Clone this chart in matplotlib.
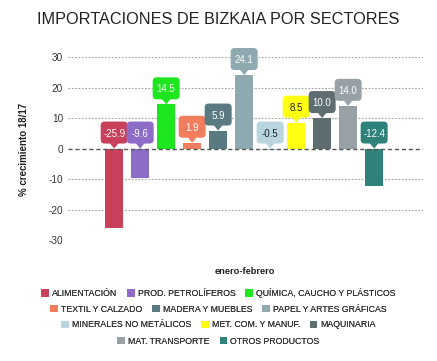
import matplotlib
matplotlib.use("Agg")
import matplotlib.pyplot as plt
from matplotlib.patches import FancyBboxPatch, Polygon
from matplotlib.transforms import Affine2D, ScaledTranslation
import numpy as np

plt.rcParams['font.family'] = ['Liberation Sans', 'DejaVu Sans']
plt.rcParams['axes.unicode_minus'] = False

# datos
sectores = ['ALIMENTACIÓN', 'PROD. PETROLÍFEROS', 'QUÍMICA, CAUCHO Y PLÁSTICOS',
            'TEXTIL Y CALZADO', 'MADERA Y MUEBLES', 'PAPEL Y ARTES GRÁFICAS',
            'MINERALES NO METÁLICOS', 'MET. COM. Y MANUF.', 'MAQUINARIA',
            'MAT. TRANSPORTE', 'OTROS PRODUCTOS']
valores = [-25.9, -9.6, 14.5, 1.9, 5.9, 24.1, -0.5, 8.5, 10.0, 14.0, -12.4]
colores = ['#c9405a', '#8c6cc6', '#1ee61e', '#f07e5e', '#587a80', '#8fa9b1',
           '#b9d5df', '#ffff14', '#5d6d70', '#98a2a6', '#2e8279']
color_texto = ['white', 'white', 'white', 'white', 'white', 'white',
               '#222222', '#222222', 'white', 'white', 'white']
filas_leyenda = [3, 3, 3, 2]

fig = plt.figure(figsize=(4.37, 3.61), dpi=100)
ax = fig.add_axes([0.156, 0.335, 0.812, 0.507])

x = np.arange(len(valores))
barras = ax.bar(x, valores, width=0.69, color=colores, zorder=3)

ax.set_xlim(-1.77, 11.88)
ax.set_ylim(-30, 30)
ax.set_yticks([-30, -20, -10, 0, 10, 20, 30])
ax.tick_params(axis='y', length=0, labelsize=7.2, colors='#333333', pad=3.6)
ax.set_xticks([])
for s in ax.spines.values():
    s.set_visible(False)

# rejilla
for t in [-20, -10, 10, 20, 30]:
    ax.axhline(t, color='#a0a0a0', lw=0.8, ls=(0, (1.5, 1.5)), zorder=1)
ax.axhline(0, color='#555555', lw=1.0, ls=(0, (3, 2)), zorder=4)

# etiquetas (caja redondeada con pico, medidas en pixeles)
w, h, sep = 27, 22, 5
for xi, v, c, tc in zip(x, valores, colores, color_texto):
    tope = max(v, 0)
    tr = Affine2D() + ScaledTranslation(xi, tope, ax.transData)
    caja = FancyBboxPatch((-w / 2, sep), w, h, boxstyle='round,pad=0,rounding_size=4',
                          fc=c, ec='none', transform=tr, zorder=6, clip_on=False)
    pico = Polygon([(-4.5, sep + 0.5), (4.5, sep + 0.5), (0, 0)], closed=True,
                   fc=c, ec='none', transform=tr, zorder=6, clip_on=False)
    ax.add_patch(caja)
    ax.add_patch(pico)
    ax.annotate(f'{v:.1f}', xy=(xi, tope), xytext=(0, (sep + h / 2) * 0.72),
                textcoords='offset points', ha='center', va='center_baseline',
                fontsize=7, color=tc, zorder=7)

fig.text(0.5, 0.947, 'IMPORTACIONES DE BIZKAIA POR SECTORES', ha='center', va='center',
         fontsize=11.7, color='#222222')
fig.text(0.055, 0.587, '% crecimiento 18/17', rotation=90, ha='center', va='center',
         fontsize=7, fontweight='bold', color='#222222')
fig.text(0.561, 0.249, 'enero-febrero', ha='center', va='center',
         fontsize=6.7, fontweight='bold', color='#222222')

# leyenda en filas centradas
ys = [0.188, 0.144, 0.100, 0.055]
i = 0
for n, yy in zip(filas_leyenda, ys):
    leg = fig.legend(barras.patches[i:i + n], sectores[i:i + n], loc='center',
                     bbox_to_anchor=(0.5, yy), ncol=n, frameon=False, fontsize=6.3,
                     handlelength=0.9, handleheight=0.9, handletextpad=0.35,
                     columnspacing=1.1, borderpad=0, labelcolor='#333333')
    fig.add_artist(leg)
    i += n

fig.savefig('out.png', dpi=100)
